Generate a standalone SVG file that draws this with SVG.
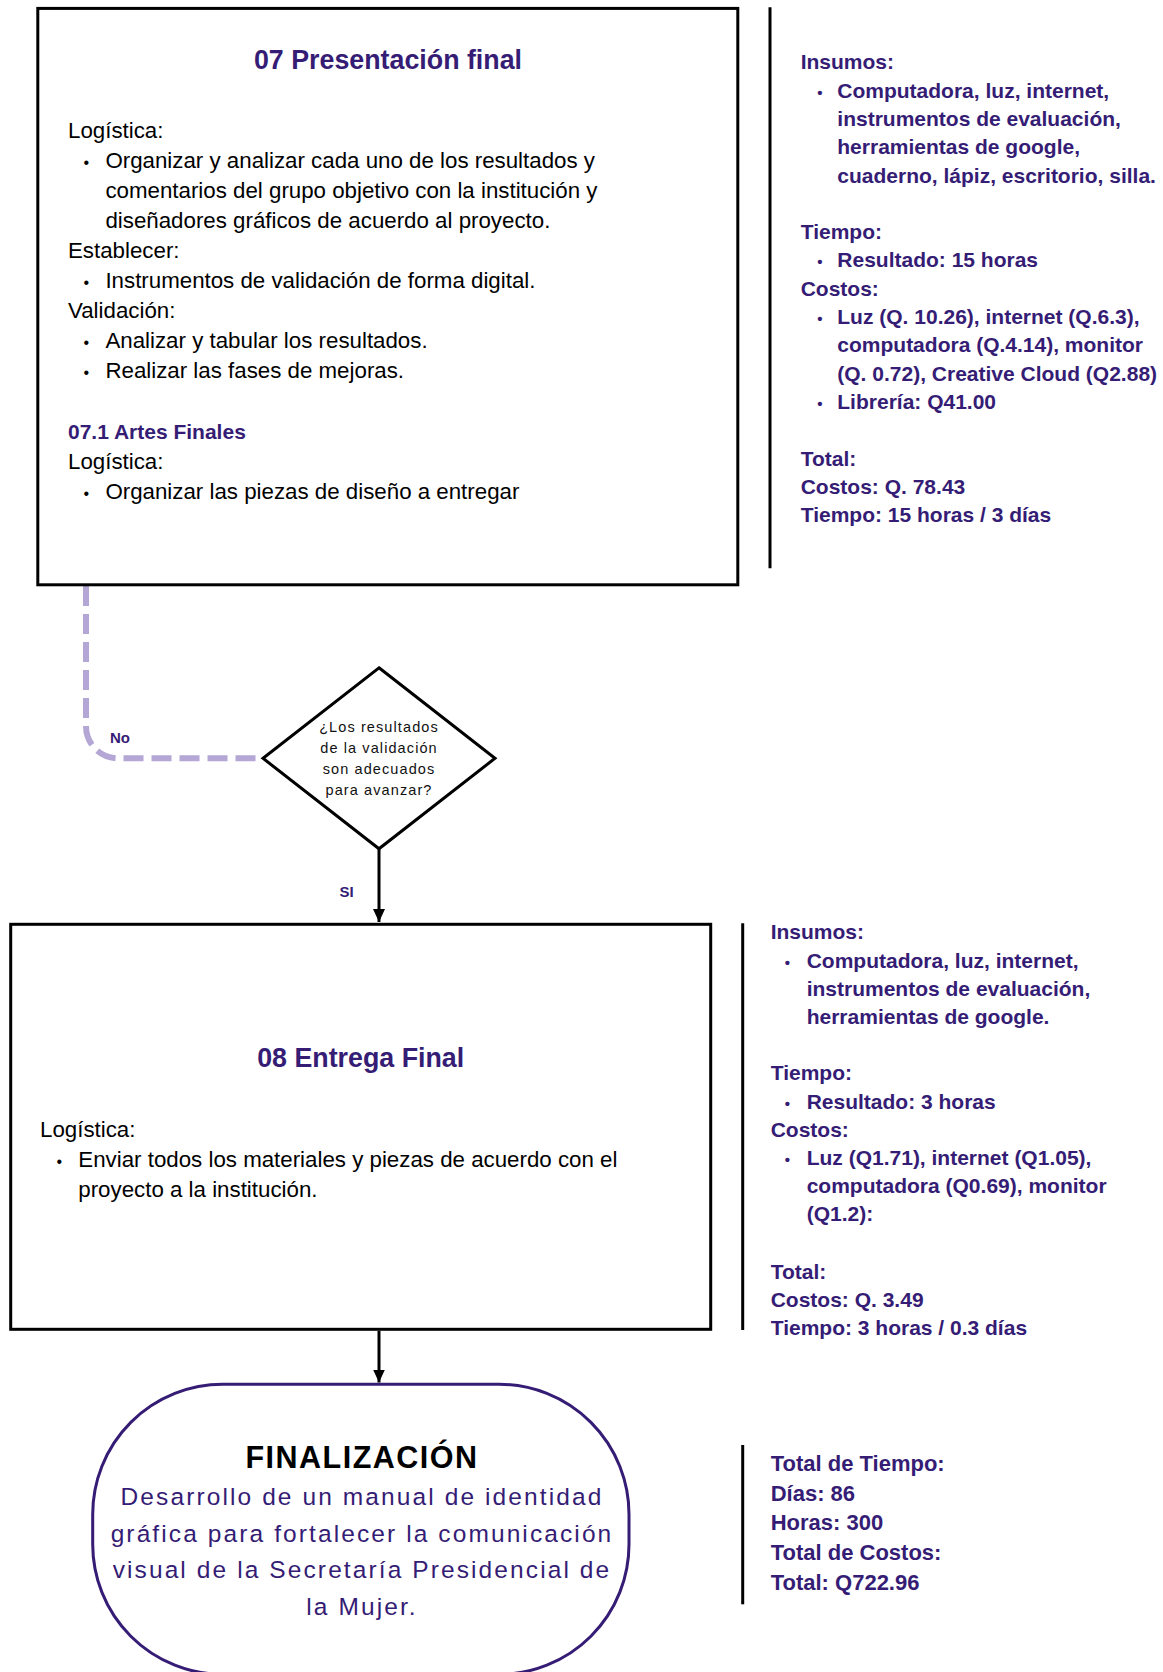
<svg xmlns="http://www.w3.org/2000/svg" width="1163" height="1672" viewBox="0 0 1163 1672">
<style>
text{font-family:"Liberation Sans",Arial,sans-serif;}
.box{fill:#fff;stroke:#000;stroke-width:3;}
.title{font-size:26.8px;font-weight:bold;fill:#351c75;text-anchor:middle;}
.body{font-size:22.3px;fill:#000;}
.sub{font-size:21px;font-weight:bold;fill:#351c75;}
.dot{font-size:16px;text-anchor:middle;}
.side{font-size:21px;font-weight:bold;fill:#351c75;}
.side3{font-size:22px;font-weight:bold;fill:#351c75;}
.sdot{font-size:15px;font-weight:bold;fill:#351c75;text-anchor:middle;}
.vline{stroke:#000;stroke-width:3;}
.lbl{font-size:15px;font-weight:bold;fill:#351c75;}
.q{font-size:14.5px;fill:#111;text-anchor:middle;letter-spacing:1.1px;}
.conn{fill:none;stroke:#000;stroke-width:3;}
.dash{fill:none;stroke:#b4a7d6;stroke-width:6;stroke-dasharray:20 8;}
</style>
<defs>
<marker id="arr" markerUnits="userSpaceOnUse" markerWidth="14" markerHeight="12" viewBox="0 0 14 12" refX="13" refY="6" orient="auto">
<path d="M0,0 L13,6 L0,12 Z" fill="#000"/>
</marker>
</defs>
<rect width="1163" height="1672" fill="#fff"/>

<g id="connectors">
<path class="dash" d="M86,586 V726.3 A32,32 0 0 0 118,758.3 H263"/>
<line class="conn" x1="379" y1="848.8" x2="379" y2="922" marker-end="url(#arr)"/>
<line class="conn" x1="379" y1="1330.8" x2="379" y2="1382.5" marker-end="url(#arr)"/>
<text class="lbl" x="110" y="743">No</text>
<text class="lbl" x="339.5" y="896.7">SI</text>
</g>

<g id="node-07">
<rect class="box" x="37.8" y="8.4" width="700" height="576.4"/>
<text class="title" x="388" y="69">07 Presentación final</text>
<text class="body" x="68" y="137.8">Logística:</text>
<text class="body dot" x="86.4" y="168">•</text>
<text class="body" x="105.4" y="168">Organizar y analizar cada uno de los resultados y</text>
<text class="body" x="105.4" y="198">comentarios del grupo objetivo con la institución y</text>
<text class="body" x="105.4" y="228">diseñadores gráficos de acuerdo al proyecto.</text>
<text class="body" x="68" y="258">Establecer:</text>
<text class="body dot" x="86.4" y="288.2">•</text>
<text class="body" x="105.4" y="288.2">Instrumentos de validación de forma digital.</text>
<text class="body" x="68" y="318.3">Validación:</text>
<text class="body dot" x="86.4" y="348.3">•</text>
<text class="body" x="105.4" y="348.3">Analizar y tabular los resultados.</text>
<text class="body dot" x="86.4" y="378.4">•</text>
<text class="body" x="105.4" y="378.4">Realizar las fases de mejoras.</text>
<text class="sub" x="68" y="438.5">07.1 Artes Finales</text>
<text class="body" x="68" y="468.5">Logística:</text>
<text class="body dot" x="86.4" y="498.6">•</text>
<text class="body" x="105.4" y="498.6">Organizar las piezas de diseño a entregar</text>
</g>

<g id="side-07">
<line class="vline" x1="770" y1="7.3" x2="770" y2="568.3"/>
<text class="side" x="800.7" y="69.3">Insumos:</text>
<text class="sdot" x="820" y="97.6">•</text>
<text class="side" x="837.3" y="97.6">Computadora, luz, internet,</text>
<text class="side" x="837.3" y="125.9">instrumentos de evaluación,</text>
<text class="side" x="837.3" y="154.2">herramientas de google,</text>
<text class="side" x="837.3" y="182.5">cuaderno, lápiz, escritorio, silla.</text>
<text class="side" x="800.7" y="239.1">Tiempo:</text>
<text class="sdot" x="820" y="267.4">•</text>
<text class="side" x="837.3" y="267.4">Resultado: 15 horas</text>
<text class="side" x="800.7" y="295.7">Costos:</text>
<text class="sdot" x="820" y="324">•</text>
<text class="side" x="837.3" y="324">Luz (Q. 10.26), internet (Q.6.3),</text>
<text class="side" x="837.3" y="352.3">computadora (Q.4.14), monitor</text>
<text class="side" x="837.3" y="380.6">(Q. 0.72), Creative Cloud (Q2.88)</text>
<text class="sdot" x="820" y="408.9">•</text>
<text class="side" x="837.3" y="408.9">Librería: Q41.00</text>
<text class="side" x="800.7" y="465.6">Total:</text>
<text class="side" x="800.7" y="493.6">Costos: Q. 78.43</text>
<text class="side" x="800.7" y="521.7">Tiempo: 15 horas / 3 días</text>
</g>

<g id="decision">
<polygon points="379,667.8 495,758.3 379,848.8 263,758.3" fill="#fff" stroke="#000" stroke-width="3"/>
<text class="q" x="379" y="731.5">¿Los resultados</text>
<text class="q" x="379" y="752.7">de la validación</text>
<text class="q" x="379" y="773.9">son adecuados</text>
<text class="q" x="379" y="795.1">para avanzar?</text>
</g>

<g id="node-08">
<rect class="box" x="10.7" y="924.3" width="700" height="405"/>
<text class="title" x="360.7" y="1066.7">08 Entrega Final</text>
<text class="body" x="40" y="1136.7">Logística:</text>
<text class="body dot" x="59.3" y="1166.7">•</text>
<text class="body" x="78.3" y="1166.7">Enviar todos los materiales y piezas de acuerdo con el</text>
<text class="body" x="78.3" y="1196.7">proyecto a la institución.</text>
</g>

<g id="side-08">
<line class="vline" x1="742.7" y1="923.3" x2="742.7" y2="1330"/>
<text class="side" x="770.7" y="939.3">Insumos:</text>
<text class="sdot" x="787.3" y="967.5">•</text>
<text class="side" x="806.7" y="967.5">Computadora, luz, internet,</text>
<text class="side" x="806.7" y="995.7">instrumentos de evaluación,</text>
<text class="side" x="806.7" y="1023.9">herramientas de google.</text>
<text class="side" x="770.7" y="1080.3">Tiempo:</text>
<text class="sdot" x="787.3" y="1108.5">•</text>
<text class="side" x="806.7" y="1108.5">Resultado: 3 horas</text>
<text class="side" x="770.7" y="1136.7">Costos:</text>
<text class="sdot" x="787.3" y="1164.9">•</text>
<text class="side" x="806.7" y="1164.9">Luz (Q1.71), internet (Q1.05),</text>
<text class="side" x="806.7" y="1193.1">computadora (Q0.69), monitor</text>
<text class="side" x="806.7" y="1221.3">(Q1.2):</text>
<text class="side" x="770.7" y="1278.5">Total:</text>
<text class="side" x="770.7" y="1306.5">Costos: Q. 3.49</text>
<text class="side" x="770.7" y="1334.5">Tiempo: 3 horas / 0.3 días</text>
</g>

<g id="terminal">
<rect x="92.7" y="1384.3" width="536.3" height="290" rx="130" ry="130" fill="#fff" stroke="#351c75" stroke-width="3"/>
<text x="362" y="1468.3" text-anchor="middle" font-size="30.5" font-weight="bold" letter-spacing="1.5" fill="#000">FINALIZACIÓN</text>
<g font-size="24.5" fill="#351c75" text-anchor="middle" letter-spacing="2.1">
<text x="362" y="1505">Desarrollo de un manual de identidad</text>
<text x="362" y="1541.7">gráfica para fortalecer la comunicación</text>
<text x="362" y="1578.4">visual de la Secretaría Presidencial de</text>
<text x="362" y="1615.1">la Mujer.</text>
</g>
</g>

<g id="side-total">
<line class="vline" x1="742.7" y1="1445" x2="742.7" y2="1604.3"/>
<text class="side3" x="770.7" y="1470.7">Total de Tiempo:</text>
<text class="side3" x="770.7" y="1500.5">Días: 86</text>
<text class="side3" x="770.7" y="1530.3">Horas: 300</text>
<text class="side3" x="770.7" y="1560.1">Total de Costos:</text>
<text class="side3" x="770.7" y="1589.9">Total: Q722.96</text>
</g>
</svg>
